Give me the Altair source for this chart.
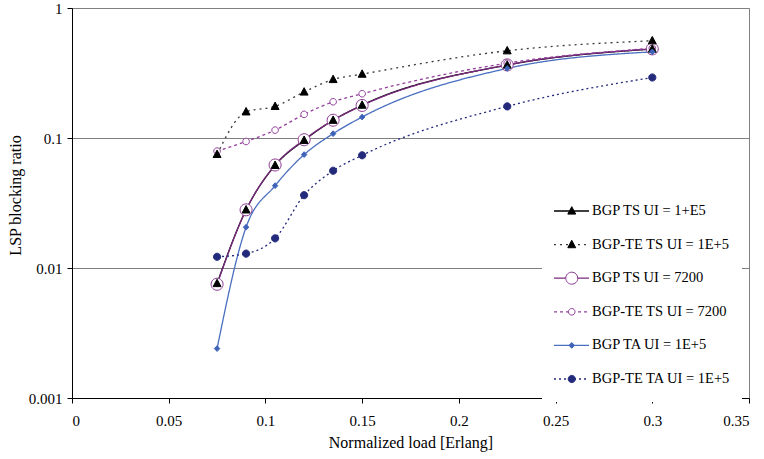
import altair as alt
import pandas as pd

# ---- data ----
loads = [0.075, 0.09, 0.105, 0.12, 0.135, 0.15, 0.225, 0.3]

series_names = [
    "BGP TS UI = 1+E5",
    "BGP-TE TS UI = 1E+5",
    "BGP TS UI = 7200",
    "BGP-TE TS UI = 7200",
    "BGP TA UI = 1E+5",
    "BGP-TE TA UI = 1E+5",
]

bgp_ts_1e5 = [0.0076, 0.028, 0.0616, 0.096, 0.137, 0.179, 0.364, 0.483]
bgpte_ts_1e5 = [0.0748, 0.159, 0.175, 0.226, 0.282, 0.31, 0.469, 0.56]
bgp_ts_7200 = [0.0075, 0.028, 0.062, 0.097, 0.137, 0.178, 0.365, 0.485]
bgpte_ts_7200 = [0.0793, 0.094, 0.115, 0.152, 0.19, 0.219, 0.377, 0.49]
bgp_ta_1e5 = [0.0024, 0.0206, 0.043, 0.0745, 0.108, 0.145, 0.343, 0.46]
bgpte_ta_1e5 = [0.0122, 0.0129, 0.0169, 0.0363, 0.056, 0.0736, 0.175, 0.292]

all_values = [bgp_ts_1e5, bgpte_ts_1e5, bgp_ts_7200, bgpte_ts_7200, bgp_ta_1e5, bgpte_ta_1e5]

x_ticks = [0, 0.05, 0.1, 0.15, 0.2, 0.25, 0.3, 0.35]
y_ticks = [0.001, 0.01, 0.1, 1]

# ---- styles ----
line_colors = ["#000000", "#3a3a3a", "#7a2a7e", "#93409a", "#4a6fc0", "#232a7c"]
line_dashes = [[1, 0], [2, 4], [1, 0], [3, 3], [1, 0], [2, 3]]

circle_big = "M1,0A1,1 0 1,1 -1,0A1,1 0 1,1 1,0Z"
circle_small = "M0.55,0A0.55,0.55 0 1,1 -0.55,0A0.55,0.55 0 1,1 0.55,0Z"
circle_mid = "M0.6,0A0.6,0.6 0 1,1 -0.6,0A0.6,0.6 0 1,1 0.6,0Z"
triangle = "M0,-0.72L0.66,0.52L-0.66,0.52Z"
diamond = "M0,-0.48L0.45,0L0,0.48L-0.45,0Z"

point_keys = ["p1", "p2", "p3", "p4", "p5", "p6"]
marker_paths = [triangle, triangle, circle_big, circle_small, diamond, circle_mid]
marker_fills = ["#000000", "#000000", "#ffffff", "#ffffff", "#3f63b8", "#232a7c"]
marker_strokes = ["#000000", "#000000", "#8a3590", "#93409a", "#3f63b8", "#232a7c"]
draw_order = [3, 4, 1, 2, 5, 6]

FONT = "Liberation Serif"

rows = []
for i, name in enumerate(series_names):
    for x, v in zip(loads, all_values[i]):
        rows.append({"load": x, "value": v, "series": name,
                     "key": point_keys[i], "z": draw_order[i], "s": i})
df = pd.DataFrame(rows)

x_enc = alt.X("load:Q", scale=alt.Scale(domain=[0, 0.35], nice=False, zero=False),
              axis=alt.Axis(values=x_ticks, format="~g", title="Normalized load [Erlang]",
                            grid=False, titleY=44, titleBaseline="middle",
                            labelPadding=10))
y_enc = alt.Y("value:Q", scale=alt.Scale(type="log", domain=[0.001, 1], nice=False),
              axis=alt.Axis(values=y_ticks, format="~g", title="LSP blocking ratio",
                            grid=True, gridColor="#808080", gridWidth=1,
                            titleX=-57, titleY=187, titleBaseline="middle",
                            titleAngle=-90, labelPadding=5))

legend_lines = alt.Legend(
    title=None, orient="none", legendX=470, legendY=180, padding=11,
    fillColor="white", symbolType="stroke", symbolSize=1225, symbolStrokeWidth=1.3,
    clipHeight=24, rowPadding=9.6, labelFont=FONT, labelFontSize=14.5,
    labelColor="black", labelOffset=2, labelLimit=300,
)
legend_marks = alt.Legend(
    title=None, orient="none", legendX=470, legendY=180, padding=11,
    symbolOffset=11.5, symbolSize=144, symbolStrokeWidth=1,
    clipHeight=24, rowPadding=9.6, labelExpr="''", labelFontSize=14.5, labelFont=FONT,
)

lines = alt.Chart(df).mark_line(interpolate="monotone", strokeWidth=1.3).encode(
    x=x_enc,
    y=y_enc,
    color=alt.Color("series:N", scale=alt.Scale(domain=series_names, range=line_colors),
                    legend=legend_lines),
    strokeDash=alt.StrokeDash("series:N", scale=alt.Scale(domain=series_names, range=line_dashes),
                              legend=legend_lines),
    order=alt.Order("load:Q"),
    detail="s:N",
)

points = alt.Chart(df).mark_point(filled=True, size=144, strokeWidth=1, opacity=1).encode(
    x=x_enc,
    y=y_enc,
    shape=alt.Shape("key:N", scale=alt.Scale(domain=point_keys, range=marker_paths),
                    legend=legend_marks),
    fill=alt.Fill("key:N", scale=alt.Scale(domain=point_keys, range=marker_fills),
                  legend=legend_marks),
    stroke=alt.Stroke("key:N", scale=alt.Scale(domain=point_keys, range=marker_strokes),
                      legend=legend_marks),
    order=alt.Order("z:Q"),
)

chart = alt.layer(lines, points).properties(
    width=677, height=390,
    padding={"left": 72, "top": 8, "right": 15, "bottom": 61},
    autosize="none",
    background="white",
).configure_view(
    stroke="#808080", strokeWidth=1,
).configure_axis(
    domainColor="black", tickColor="black", tickSize=5,
    labelFont=FONT, labelFontSize=15, labelColor="black",
    titleFont=FONT, titleFontSize=16, titleColor="black", titleFontWeight="normal",
)

chart.save("out.html", embed_options={"renderer": "svg", "actions": False})
